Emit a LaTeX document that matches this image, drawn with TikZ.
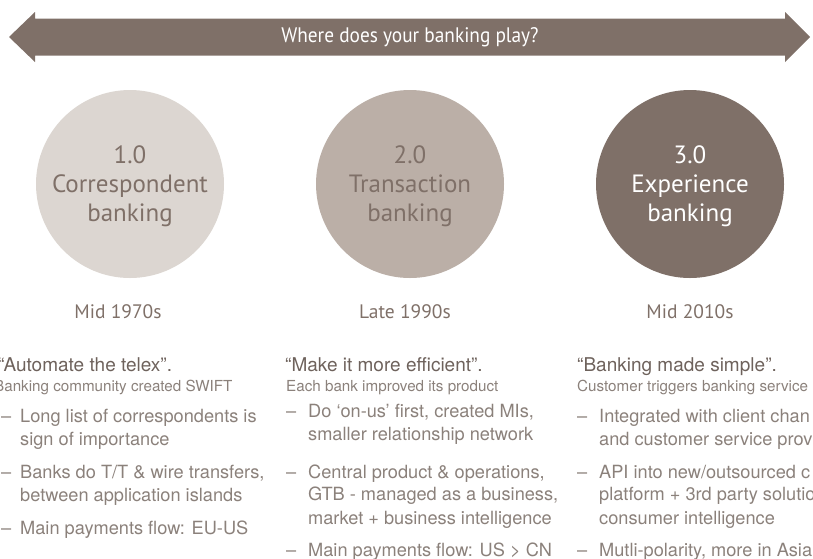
\documentclass[tikz,border=0pt]{standalone}
\usepackage{fontspec}
\setmainfont{TeX Gyre Heros}
\newfontfamily\myr{PT Sans}
\newfontfamily\myrn[FakeStretch=0.92]{PT Sans}
\definecolor{bandc}{HTML}{7F7068}
\definecolor{circA}{HTML}{DCD6D1}
\definecolor{circB}{HTML}{BBAFA7}
\definecolor{circC}{HTML}{7F7068}
\definecolor{headc}{HTML}{6E625C}
\definecolor{bodyc}{HTML}{8B817B}
\tikzset{
  titletext/.style={text=white,font={\myrn\fontsize{21}{26}\selectfont},inner sep=0pt},
  circ/.style={circle,minimum size=188pt,inner sep=0pt},
  circtext/.style={inner sep=0pt,align=center,font={\myr\fontsize{25}{29}\selectfont}},
  datetext/.style={text=bandc,font={\myr\fontsize{19.5}{24}\selectfont},inner sep=0pt},
  quotetext/.style={anchor=base west,inner sep=0pt,text=headc,font={\fontsize{19}{23}\selectfont}},
  subtext/.style={anchor=base west,inner sep=0pt,text=bodyc,font={\fontsize{15.2}{18}\selectfont}},
  bultext/.style={anchor=base west,inner sep=0pt,text=bodyc,font={\fontsize{18.2}{23}\selectfont}},
}
\begin{document}
\begin{tikzpicture}[x=1pt,y=-1pt]
\path[use as bounding box] (0,0) rectangle (813,558);
\clip (0,0) rectangle (813,558);
% double arrow band
\fill[bandc] (9,37) -- (35,12) -- (35,18.5) -- (785,18.5) -- (785,12) -- (810,37)
  -- (785,62) -- (785,55.5) -- (35,55.5) -- (35,62) -- cycle;
\node[titletext] (title) at (410,37) {Where does your banking play?};
% circles
\node[circ,fill=circA] (c1) at (130,184) {};
\node[circ,fill=circB] (c2) at (410,184) {};
\node[circ,fill=circC] (c3) at (690,184) {};
\node[circtext,text=bandc] (t1) at (130,186) {1.0\\Correspondent\\banking};
\node[circtext,text=bandc] (t2) at (410,186) {2.0\\Transaction\\banking};
\node[circtext,text=white] (t3) at (690,186) {3.0\\Experience\\banking};
% dates
\node[datetext] (d1) at (118,312) {Mid 1970s};
\node[datetext] (d2) at (405,312) {Late 1990s};
\node[datetext] (d3) at (690,312) {Mid 2010s};
% column 1
\node[quotetext] (q1) at (-2,371) {“Automate the telex”.};
\node[subtext] (s1) at (-6,391) {Banking community created SWIFT};
\node[bultext] (m1a) at (1,422) {–};
\node[bultext] (l1a) at (20,422) {Long list of correspondents is};
\node[bultext] (l1b) at (20,445) {sign of importance};
\node[bultext] (m1b) at (1,478) {–};
\node[bultext] (l1c) at (20,478) {Banks do T/T \& wire transfers,};
\node[bultext] (l1d) at (20,501) {between application islands};
\node[bultext] (m1c) at (1,534) {–};
\node[bultext] (l1e) at (20,534) {Main payments flow: EU-US};
% column 2
\node[quotetext] (q2) at (285,371) {“Make it more efficient”.};
\node[subtext] (s2) at (286,391) {Each bank improved its product};
\node[bultext] (m2a) at (286,417) {–};
\node[bultext] (l2a) at (308,417) {Do ‘on-us’ first, created MIs,};
\node[bultext] (l2b) at (308,440) {smaller relationship network};
\node[bultext] (m2b) at (286,478) {–};
\node[bultext] (l2c) at (308,478) {Central product \& operations,};
\node[bultext] (l2d) at (308,500) {GTB - managed as a business,};
\node[bultext] (l2e) at (308,524) {market + business intelligence};
\node[bultext] (m2c) at (286,556) {–};
\node[bultext] (l2f) at (308,556) {Main payments flow: US > CN};
% column 3
\node[quotetext] (q3) at (577,371) {“Banking made simple”.};
\node[subtext] (s3) at (577,391) {Customer triggers banking service};
\node[bultext] (m3a) at (577,422) {–};
\node[bultext] (l3a) at (599,422) {Integrated with client chan};
\node[bultext] (l3b) at (599,445) {and customer service prov};
\node[bultext] (m3b) at (577,478) {–};
\node[bultext] (l3c) at (599,478) {API into new/outsourced c};
\node[bultext] (l3d) at (599,500) {platform + 3rd party solutio};
\node[bultext] (l3e) at (599,524) {consumer intelligence};
\node[bultext] (m3c) at (577,556) {–};
\node[bultext] (l3f) at (599,556) {Mutli-polarity, more in Asia};
\end{tikzpicture}
\end{document}
